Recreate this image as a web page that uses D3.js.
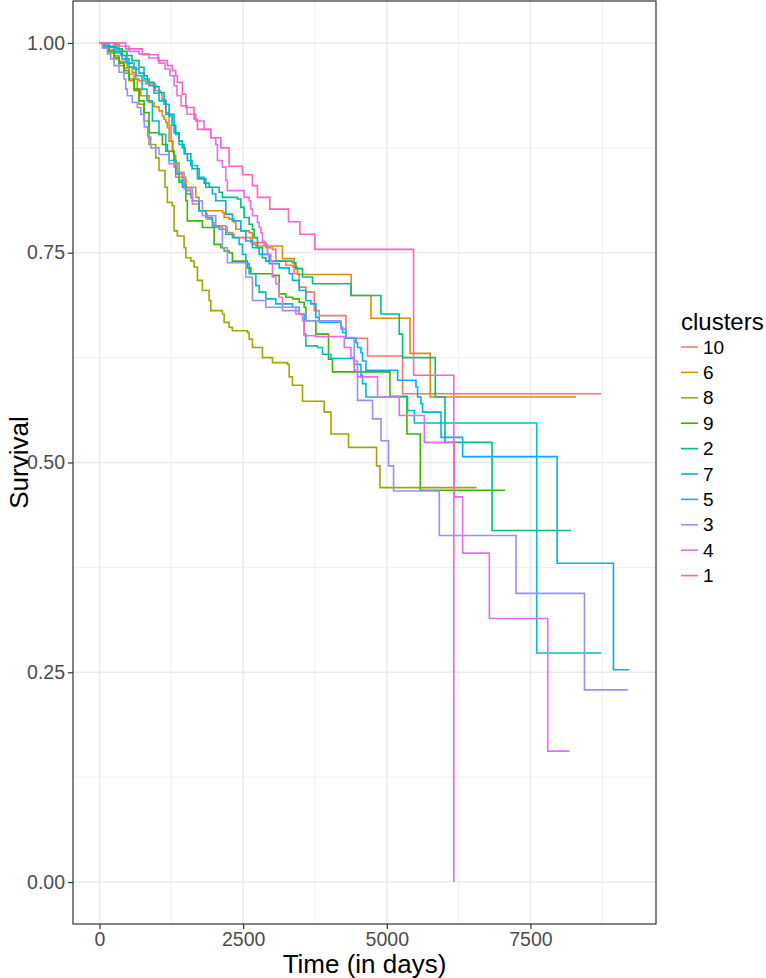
<!DOCTYPE html>
<html><head><meta charset="utf-8">
<script src="https://cdn.jsdelivr.net/npm/d3@7"></script>
<style>body{margin:0;background:#fff}svg{display:block}text{font-family:"Liberation Sans",Arial,Helvetica,sans-serif}</style>
</head><body>
<svg id="chart" width="766" height="978"></svg>
<script>
// ---- data ----
const clusters = ["10","6","8","9","2","7","5","3","4","1"];
const colors = ["#F8766D","#D89000","#A3A500","#39B600","#00BF7D","#00BFC4","#00B0F6","#9590FF","#E76BF3","#FF62BC"];
const xTicks = [0,2500,5000,7500];
const xMinor = [1250,3750,6250,8750];
const yTicks = [0,0.25,0.5,0.75,1];
const yMinor = [0.125,0.375,0.625,0.875];
const xTitle = "Time (in days)";
const yTitle = "Survival";
const legendTitle = "clusters";

const time10 = [0,49,113,165,253,340,427,514,601,688,803,977,1060,1089,1158,1211,1246,1280,1298,1327,1442,1502,1589,1617,1733,1850,1878,1965,1995,2198,2226,2313,2343,2634,2895,3010,3069,3244,3359,3388,3475,3592,3737,3824,4289,4665,5275,8731];
const surv10 = [1,.998,.995,.992,.985,.978,.970,.963,.957,.955,.951,.943,.941,.932,.917,.901,.883,.869,.852,.840,.836,.824,.816,.808,.800,.796,.790,.786,.782,.780,.774,.772,.768,.762,.756,.754,.740,.735,.733,.725,.709,.703,.681,.675,.648,.627,.582,.582];

const time6 = [0,253,340,397,456,484,571,631,658,718,862,949,1036,1094,1124,1153,1181,1211,1268,1298,1327,1385,1442,1502,1676,1733,2139,2169,2256,2343,2373,2460,2604,2662,2721,3184,3388,3446,4381,4724,5404,5757,8295];
const surv6 = [1,.998,.990,.985,.977,.971,.965,.957,.945,.937,.929,.924,.919,.913,.909,.905,.899,.883,.871,.866,.857,.844,.840,.828,.816,.800,.798,.792,.790,.786,.778,.776,.774,.760,.758,.743,.733,.724,.699,.672,.630,.578,.578];

const time8 = [0,78,165,253,340,427,514,601,688,775,862,979,1036,1141,1181,1268,1298,1355,1472,1502,1589,1646,1704,1791,1908,1937,2139,2169,2256,2313,2575,2604,2662,2836,3010,3271,3301,3359,3533,3911,4028,4334,4822,4881,6564];
const surv8 = [1,.994,.988,.981,.973,.964,.955,.943,.927,.907,.879,.863,.848,.828,.810,.806,.776,.770,.756,.744,.740,.733,.717,.705,.693,.681,.677,.667,.661,.657,.655,.647,.637,.625,.619,.617,.602,.592,.573,.560,.534,.518,.496,.470,.470];

const time9 = [0,78,165,253,340,427,514,601,688,775,862,1036,1094,1181,1298,1327,1385,1472,1502,1529,1791,1995,2111,2169,2256,2313,2575,2634,3010,3127,3243,3359,3475,3562,3592,3766,3986,4055,5055,5351,5583,7059];
const surv9 = [1,.995,.990,.983,.976,.967,.957,.945,.931,.917,.893,.891,.879,.871,.860,.844,.834,.830,.812,.788,.780,.760,.756,.752,.750,.740,.732,.725,.723,.701,.697,.695,.691,.685,.669,.653,.623,.608,.579,.534,.467,.467];

const time2 = [0,165,305,397,479,566,688,775,833,949,1036,1124,1211,1263,1327,1385,1442,1489,1529,1611,1733,1820,1908,2082,2139,2400,2460,2517,2604,2662,2691,2749,2836,2895,3359,3418,3533,3707,4376,4898,5217,5275,5844,6013,6832,8208];
const surv2 = [1,.996,.993,.990,.985,.979,.971,.961,.953,.948,.941,.927,.913,.902,.891,.883,.875,.868,.860,.850,.840,.833,.828,.822,.816,.814,.804,.792,.784,.778,.768,.756,.744,.740,.738,.731,.721,.713,.699,.677,.653,.625,.578,.524,.419,.419];

const time7 = [0,165,288,392,514,636,740,827,920,1036,1153,1211,1327,1385,1442,1502,1617,1733,1850,1965,2082,2198,2313,2430,2488,2547,2604,2721,2779,2895,3069,3359,3475,3562,3592,3794,3881,4028,4433,4550,4578,4637,5362,5479,7609,8731];
const surv7 = [1,.995,.988,.981,.971,.961,.945,.931,.907,.891,.871,.860,.846,.836,.828,.820,.812,.800,.792,.782,.778,.772,.768,.760,.748,.737,.725,.711,.703,.695,.689,.685,.677,.653,.639,.637,.629,.624,.617,.604,.594,.578,.562,.547,.273,.273];

const time5 = [0,131,253,375,479,601,688,775,862,949,1036,1153,1298,1385,1472,1589,1704,1850,1965,2024,2198,2313,2460,2547,2662,2779,2953,3127,3301,3359,3475,3592,3679,3766,3824,4202,4230,4289,4463,4491,4550,4578,4637,5188,5508,5536,5595,5623,5944,6320,7964,8945,9224];
const surv5 = [1,.996,.990,.985,.976,.969,.964,.957,.949,.940,.931,.915,.893,.879,.868,.854,.838,.828,.820,.812,.796,.788,.776,.764,.756,.748,.737,.732,.725,.717,.705,.693,.689,.673,.667,.661,.655,.648,.643,.637,.631,.621,.610,.598,.590,.578,.570,.560,.530,.507,.380,.253,.253];

const time3 = [0,49,136,195,253,340,427,456,484,571,658,718,780,840,892,1036,1211,1355,1472,1617,1791,2024,2139,2226,2547,2662,2895,3184,3475,3592,4202,4289,4433,4491,4752,4898,5031,5118,5914,7250,8440,9194];
const surv3 = [1,.994,.987,.981,.973,.965,.957,.945,.937,.929,.923,.915,.900,.888,.875,.867,.856,.846,.826,.812,.794,.780,.756,.738,.721,.693,.685,.681,.677,.669,.659,.649,.621,.574,.552,.526,.496,.466,.413,.344,.229,.229];

const time4 = [0,340,514,688,862,1036,1141,1228,1298,1350,1420,1524,1676,1820,1937,2024,2052,2139,2198,2226,2517,2604,2634,2662,2749,2779,2808,2836,2866,2923,2982,3010,3069,3127,3184,3418,3533,3562,3766,4259,4376,4433,4491,4839,5217,5653,6175,6320,6785,7801,8179];
const surv4 = [1,.996,.990,.987,.982,.976,.969,.961,.949,.937,.925,.915,.907,.897,.887,.879,.860,.852,.836,.824,.816,.812,.802,.794,.786,.780,.774,.764,.760,.748,.740,.721,.713,.697,.685,.677,.669,.651,.650,.637,.625,.610,.602,.578,.556,.524,.459,.392,.314,.156,.156];

const time1 = [0,456,746,1019,1181,1268,1327,1355,1442,1502,1646,1704,1937,2111,2256,2488,2662,2749,2965,3289,3488,3749,5466,6167];
const surv1 = [1,.993,.986,.979,.973,.967,.961,.953,.939,.923,.909,.897,.887,.875,.853,.843,.830,.816,.802,.787,.772,.754,.604,0];

const times = [time10,time6,time8,time9,time2,time7,time5,time3,time4,time1];
const survs = [surv10,surv6,surv8,surv9,surv2,surv7,surv5,surv3,surv4,surv1];

// ---- chart ----
const series = clusters.map((c,i)=>({name:c,color:colors[i],pts:times[i].map((t,j)=>[t,survs[i][j]])}));
const svg = d3.select("#chart");
const P = {l:73, r:656, t:1, b:924};
const xMax = d3.max(times.flat());
const x = d3.scaleLinear().domain([-0.05*xMax, 1.05*xMax]).range([P.l,P.r]);
const y = d3.scaleLinear().domain([-0.05,1.05]).range([P.b,P.t]);

svg.append("rect").attr("width",766).attr("height",978).attr("fill","#fff");
svg.append("rect").attr("x",P.l).attr("y",P.t).attr("width",P.r-P.l).attr("height",P.b-P.t).attr("fill","#fff");

const grid = svg.append("g");
grid.selectAll(".xm").data(xMinor).join("line").attr("x1",d=>x(d)).attr("x2",d=>x(d)).attr("y1",P.t).attr("y2",P.b).attr("stroke","#EBEBEB").attr("stroke-width",0.8);
grid.selectAll(".ym").data(yMinor).join("line").attr("y1",d=>y(d)).attr("y2",d=>y(d)).attr("x1",P.l).attr("x2",P.r).attr("stroke","#EBEBEB").attr("stroke-width",0.8);
grid.selectAll(".xM").data(xTicks).join("line").attr("x1",d=>x(d)).attr("x2",d=>x(d)).attr("y1",P.t).attr("y2",P.b).attr("stroke","#EBEBEB").attr("stroke-width",1.5);
grid.selectAll(".yM").data(yTicks).join("line").attr("y1",d=>y(d)).attr("y2",d=>y(d)).attr("x1",P.l).attr("x2",P.r).attr("stroke","#EBEBEB").attr("stroke-width",1.5);

const line = d3.line().x(d=>x(d[0])).y(d=>y(d[1])).curve(d3.curveStepAfter);
svg.append("g").selectAll("path").data(series).join("path")
  .attr("d",d=>line(d.pts)).attr("fill","none").attr("stroke",d=>d.color).attr("stroke-width",1.6);

svg.append("rect").attr("x",P.l).attr("y",P.t).attr("width",P.r-P.l).attr("height",P.b-P.t)
  .attr("fill","none").attr("stroke","#333333").attr("stroke-width",1.2);

const xa = svg.append("g").attr("transform",`translate(0,${P.b})`)
  .call(d3.axisBottom(x).tickValues(xTicks).tickFormat(d3.format("d")).tickSize(5).tickPadding(3));
const ya = svg.append("g").attr("transform",`translate(${P.l},0)`)
  .call(d3.axisLeft(y).tickValues(yTicks).tickFormat(d3.format(".2f")).tickSize(5).tickPadding(3));
[xa,ya].forEach(a=>{
  a.select(".domain").remove();
  a.selectAll(".tick line").attr("stroke","#333333").attr("stroke-width",1.2);
  a.selectAll(".tick text").attr("fill","#4D4D4D").style("font-size","19.5px").style("font-family",'"Liberation Sans",Arial,sans-serif');
});

svg.append("text").attr("x",(P.l+P.r)/2).attr("y",973).attr("text-anchor","middle")
  .style("font-size","26px").attr("fill","#000").text(xTitle);
svg.append("text").attr("transform",`translate(28,${(P.t+P.b)/2}) rotate(-90)`).attr("text-anchor","middle")
  .style("font-size","26px").attr("fill","#000").text(yTitle);

const lg = svg.append("g");
lg.append("text").attr("x",681).attr("y",330).style("font-size","24px").attr("fill","#000").text(legendTitle);
const ent = lg.selectAll(".e").data(series).join("g").attr("transform",(d,i)=>`translate(0,${347+i*25.4})`);
ent.append("line").attr("x1",681).attr("x2",698).attr("stroke",d=>d.color).attr("stroke-width",1.6);
ent.append("text").attr("x",703).attr("dy","0.35em").style("font-size","19px").attr("fill","#000").text(d=>d.name);
</script>
</body></html>
